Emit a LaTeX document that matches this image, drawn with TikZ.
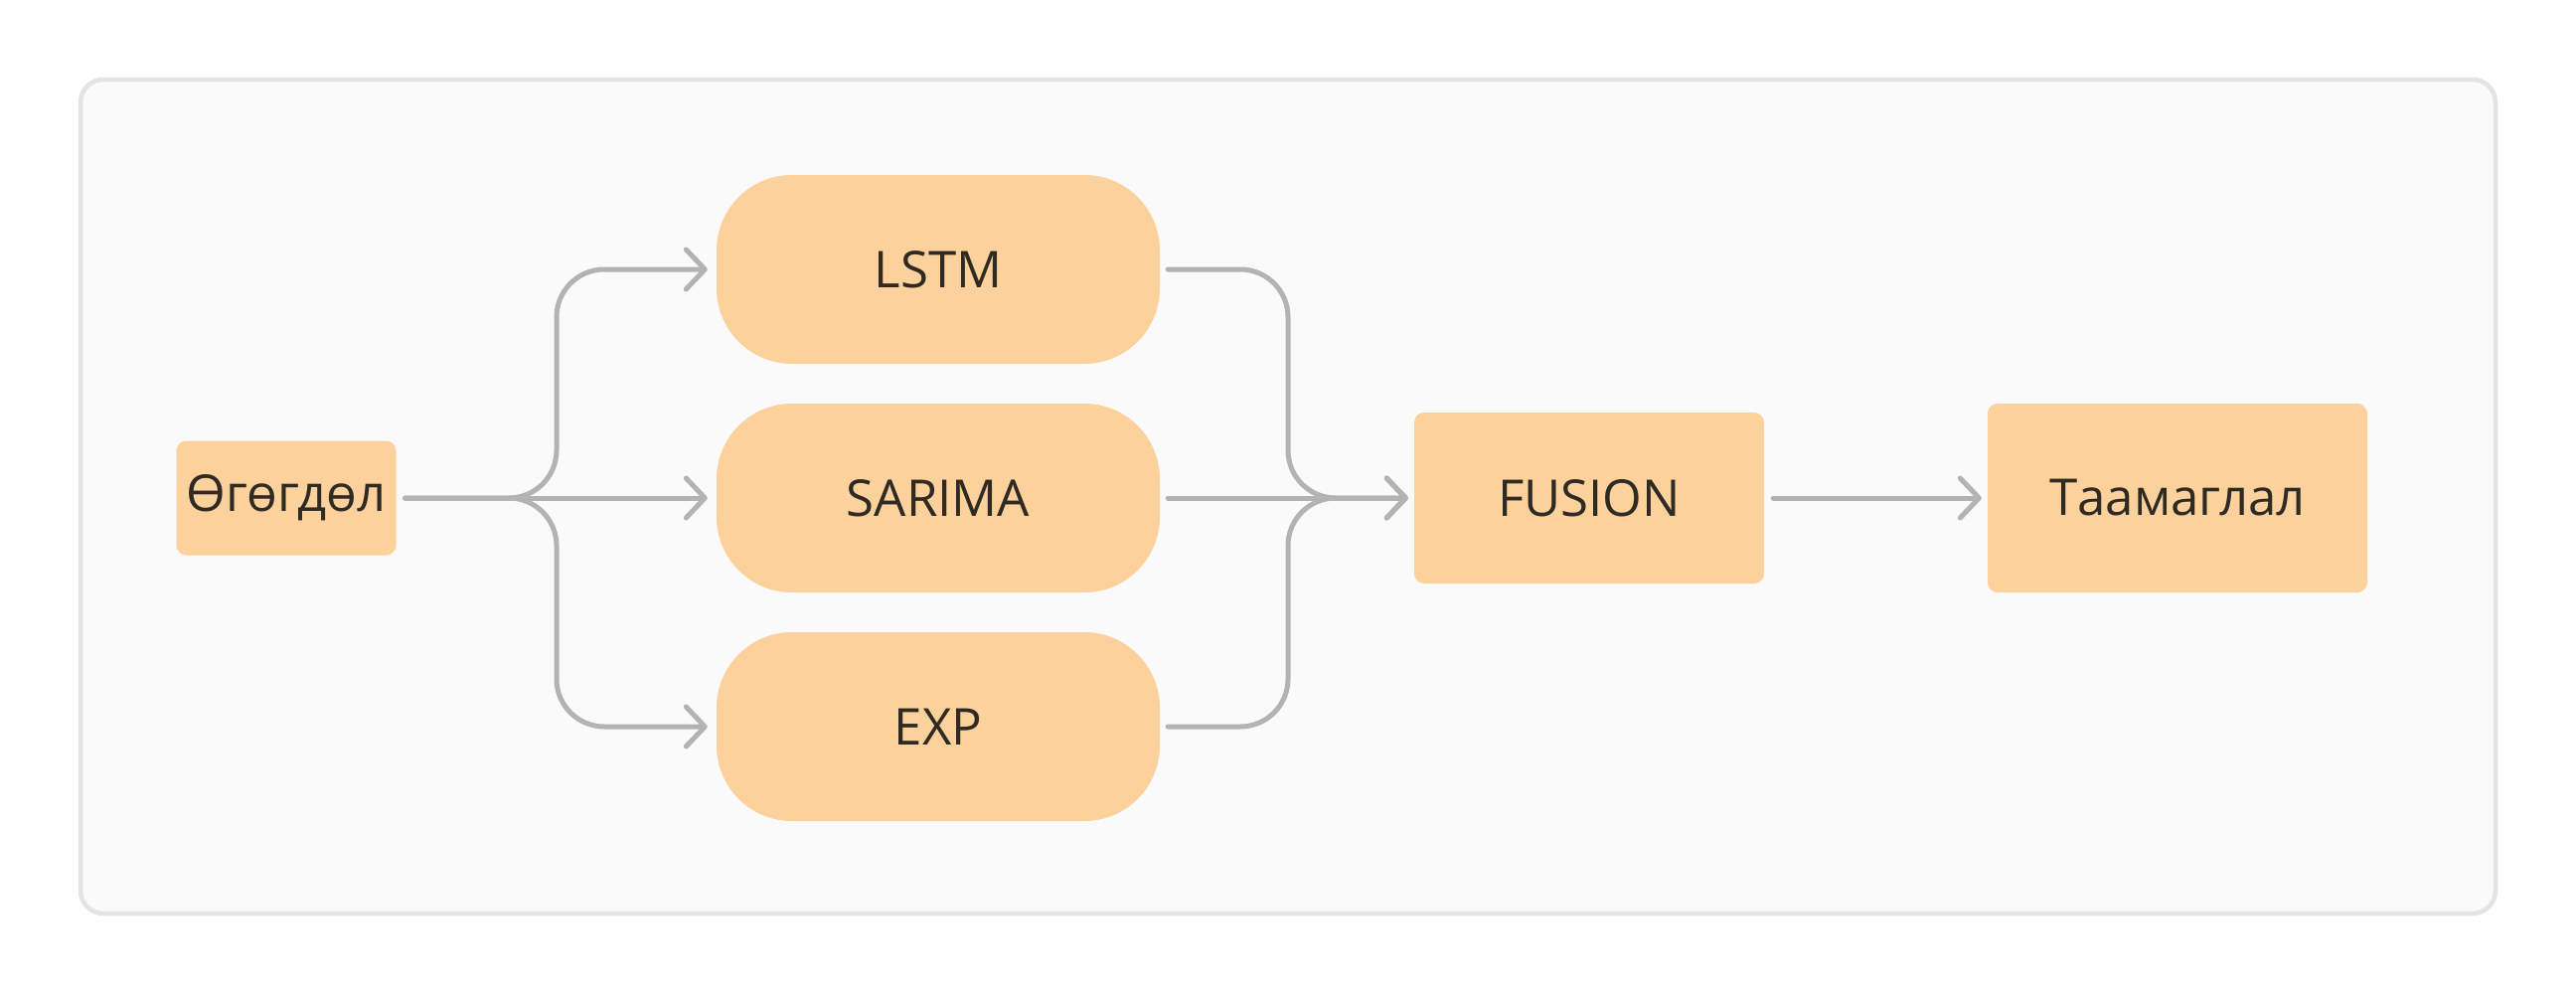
\documentclass[tikz,border=0pt]{standalone}
\usepackage{fontspec}
\setmainfont{Open Sans}
\usetikzlibrary{arrows.meta,calc}
\definecolor{boxfill}{HTML}{FCD19C}
\definecolor{txt}{HTML}{2F2A22}
\definecolor{conn}{HTML}{B3B3B3}
\definecolor{panelfill}{HTML}{FAFAFA}
\definecolor{panelline}{HTML}{E4E4E4}
\tikzset{
  base/.style={fill=boxfill, draw=none, inner sep=0pt, text=txt,
    font=\fontsize{51}{60}\selectfont},
  smallbox/.style={base, rounded corners=10pt},
  pillbox/.style={base, rounded corners=76pt, minimum width=446pt, minimum height=190pt},
  link/.style={draw=conn, line width=5pt, line cap=round, line join=round,
    -{Straight Barb[length=19pt,width=40pt,line width=5pt,round]}},
}
\begin{document}
\begin{tikzpicture}[x=1pt,y=-1pt]
\useasboundingbox (0,0) rectangle (2592,1004);
\fill[white] (0,0) rectangle (2592,1004);
\draw[panelline, fill=panelfill, line width=4.5pt, rounded corners=23pt] (81,80) rectangle (2511,919);

\node[smallbox, minimum width=221pt, minimum height=115pt] (data) at (288,501) {Өгөгдөл};
\node[pillbox] (lstm) at (944,271) {LSTM};
\node[pillbox] (sarima) at (944,501) {SARIMA};
\node[pillbox] (exp) at (944,731) {EXP};
\node[smallbox, minimum width=352pt, minimum height=172pt] (fusion) at (1599,501) {FUSION};
\node[smallbox, minimum width=382pt, minimum height=190pt] (pred) at (2191,501) {Таамаглал};

\coordinate (sx) at (560,0);
\coordinate (mx) at (1296,0);

\draw[link, rounded corners=48pt] ([xshift=9pt]data.east) -- (data.east -| sx) -- (sx |- lstm.west) -- ([xshift=-9pt]lstm.west);
\draw[link] ([xshift=9pt]data.east) -- ([xshift=-9pt]sarima.west);
\draw[link, rounded corners=48pt] ([xshift=9pt]data.east) -- (data.east -| sx) -- (sx |- exp.west) -- ([xshift=-9pt]exp.west);

\draw[link, rounded corners=48pt] ([xshift=8pt]lstm.east) -- (lstm.east -| mx) -- (mx |- fusion.west) -- ([xshift=-6pt]fusion.west);
\draw[link] ([xshift=8pt]sarima.east) -- ([xshift=-6pt]fusion.west);
\draw[link, rounded corners=48pt] ([xshift=8pt]exp.east) -- (exp.east -| mx) -- (mx |- fusion.west) -- ([xshift=-6pt]fusion.west);

\draw[link] ([xshift=9pt]fusion.east) -- ([xshift=-6pt]pred.west);
\end{tikzpicture}
\end{document}
